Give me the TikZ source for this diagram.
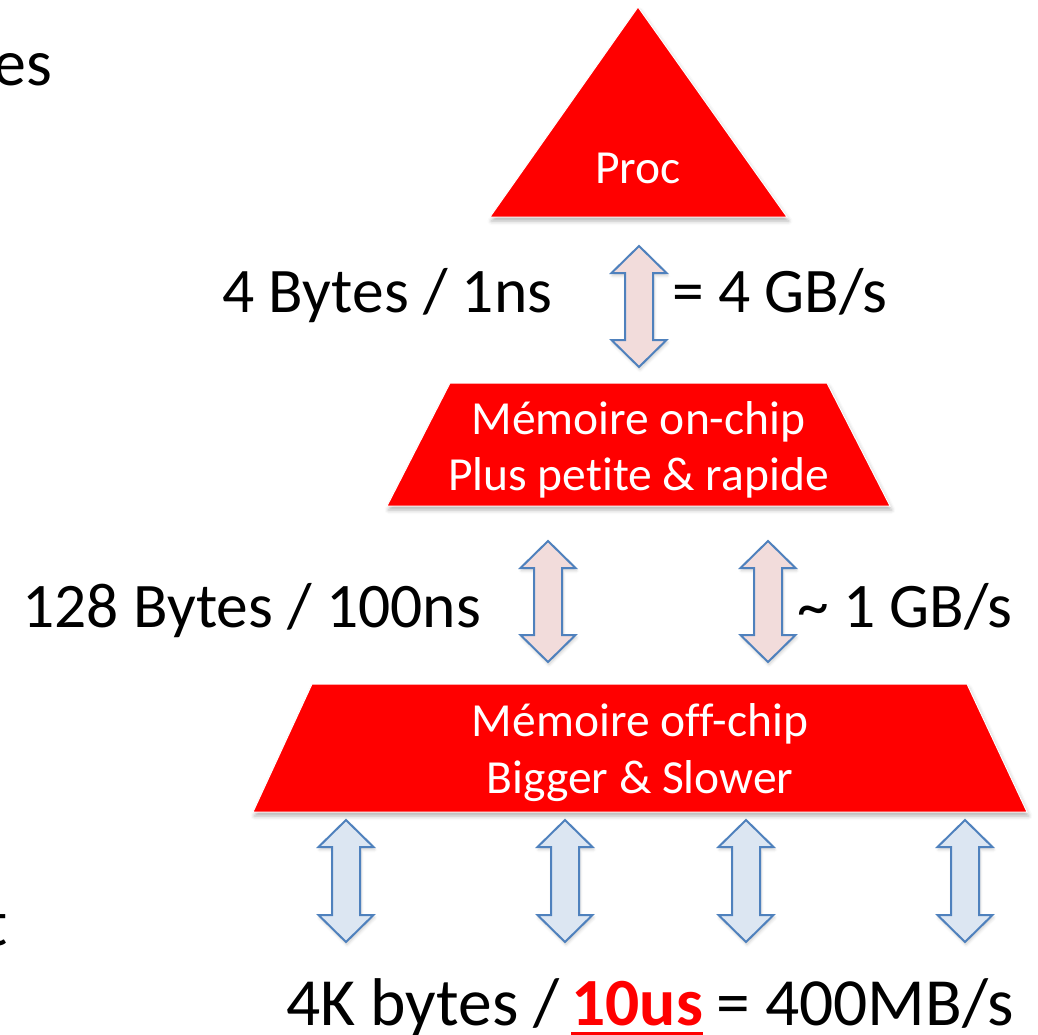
\documentclass[tikz,border=0pt]{standalone}
\usepackage{fontspec}
\setmainfont{Carlito}[Ligatures=NoCommon]
\usetikzlibrary{shadows.blur}

\definecolor{slidered}{RGB}{255,0,0}
\definecolor{arrowline}{RGB}{79,129,189}
\definecolor{pinkfill}{RGB}{242,220,219}
\definecolor{bluefill}{RGB}{220,230,242}

\tikzset{
  level/.style={fill=slidered, draw=white, line width=1bp,
    blur shadow={shadow xshift=1.5bp, shadow yshift=-4bp, shadow blur radius=4bp, shadow opacity=30}},
  busarrow/.style={draw=arrowline, line width=2bp, line join=miter,
    blur shadow={shadow xshift=1bp, shadow yshift=-2.5bp, shadow blur radius=3bp, shadow opacity=20}},
  whitelbl/.style={text=white, font=\fontsize{47.5bp}{56bp}\selectfont, inner sep=0pt, anchor=base},
  blacklbl/.style={text=black, font=\fontsize{63.5bp}{76bp}\selectfont, inner sep=0pt, anchor=base west},
  disklbl/.style={text=black, font=\fontsize{67.5bp}{80bp}\selectfont, inner sep=0pt, anchor=base west},
  edgelbl/.style={text=black, font=\fontsize{66bp}{78bp}\selectfont, inner sep=0pt, anchor=base east}
}

% vertical double block arrow: centre x, top tip y, bottom tip y, fill colour
\newcommand\dblarrow[4]{%
  \path[busarrow, fill=#4]
    (#1,#2) -- (#1+27.5,#2+27) -- (#1+14,#2+27) -- (#1+14,#3-27)
    -- (#1+27.5,#3-27) -- (#1,#3) -- (#1-27.5,#3-27) -- (#1-14,#3-27)
    -- (#1-14,#2+27) -- (#1-27.5,#2+27) -- cycle;}

\begin{document}
\begin{tikzpicture}[x=1bp, y=-1bp]
  \useasboundingbox (0,0) rectangle (1038,1035);

  % memory hierarchy levels
  \path[level] (638,7) -- (787,217) -- (490,217) -- cycle;
  \path[level] (450,383) -- (827,383) -- (890,506) -- (387,506) -- cycle;
  \path[level] (312,684) -- (967,684) -- (1027,812) -- (253,812) -- cycle;

  \node[whitelbl] (proc) at (638,183) {Proc};
  \node[whitelbl] (onchipA) at (638.5,434) {Mémoire on-chip};
  \node[whitelbl] (onchipB) at (638.5,490) {Plus petite \& rapide};
  \node[whitelbl] (offchipA) at (640,736) {Mémoire off-chip};
  \node[whitelbl] (offchipB) at (640,793) {Bigger \& Slower};

  % transfer arrows between levels
  \dblarrow{639}{246}{367}{pinkfill}
  \dblarrow{548}{541}{662}{pinkfill}
  \dblarrow{768}{541}{662}{pinkfill}
  \dblarrow{346}{820}{942}{bluefill}
  \dblarrow{565}{820}{942}{bluefill}
  \dblarrow{746}{820}{942}{bluefill}
  \dblarrow{965}{820}{942}{bluefill}

  % bandwidth labels
  \node[blacklbl] (bwA) at (222,312) {4 Bytes / 1ns};
  \node[blacklbl] (bwB) at (672,312) {= 4 GB/s};
  \node[blacklbl] (bwC) at (22,627) {128 Bytes / 100ns};
  \node[blacklbl] (bwD) at (797,627) {\char"007E\ 1 GB/s};

  \node[disklbl] (diskA) at (286,1025) {4K bytes /};
  \node[disklbl, font=\fontsize{67.5bp}{80bp}\selectfont\bfseries, text=slidered]
    (diskB) at ([xshift=11bp]diskA.base east) {10us};
  \node[disklbl] (diskC) at ([xshift=13bp]diskB.base east) {= 400MB/s};
  \draw[slidered, line width=3bp] ([yshift=-8bp]diskB.base west) -- ([yshift=-8bp]diskB.base east);

  % text running off the left edge
  \node[edgelbl] (cutA) at (52,85) {es};
  \node[edgelbl] (cutB) at (8,945) {t};
\end{tikzpicture}
\end{document}
